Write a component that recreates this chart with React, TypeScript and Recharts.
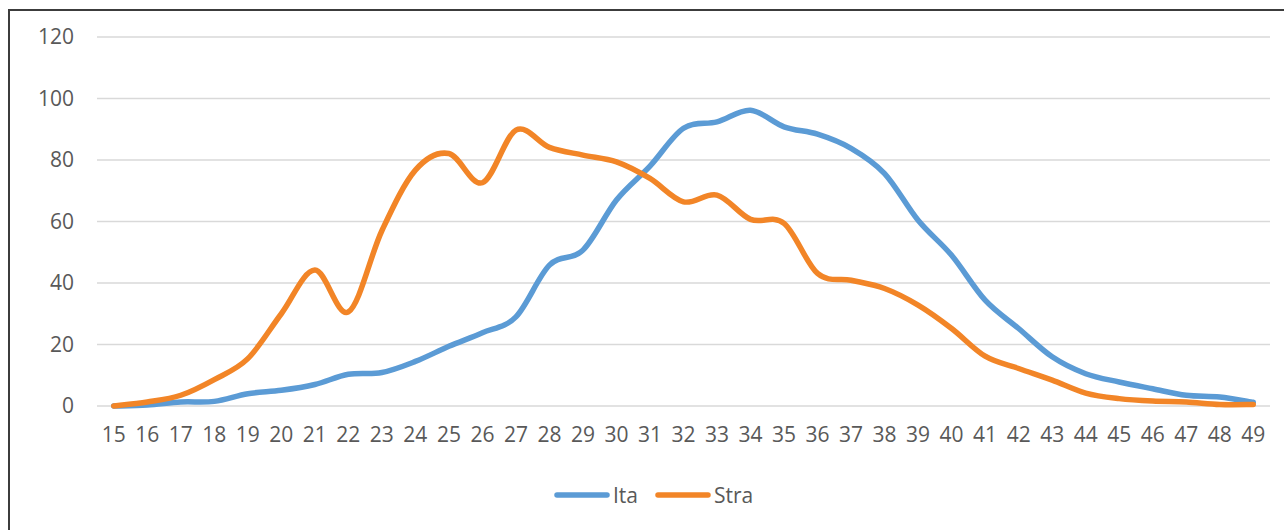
import { LineChart, Line, XAxis, YAxis, CartesianGrid, Legend } from 'recharts';

const AGES = ['15', '16', '17', '18', '19', '20', '21', '22', '23', '24', '25', '26', '27', '28', '29', '30', '31', '32', '33', '34', '35', '36', '37', '38', '39', '40', '41', '42', '43', '44', '45', '46', '47', '48', '49'];
const ITA = [0, 0.3, 1.3, 1.5, 4, 5.1, 7, 10.3, 10.9, 14.5, 19.4, 23.8, 29, 45.8, 50.7, 67, 78, 90.3, 92.4, 96.2, 90.8, 88.4, 83.8, 75.6, 60.4, 49, 34.4, 25.2, 16, 10.5, 7.8, 5.6, 3.5, 2.9, 1.2];
const STRA = [0, 1.3, 3.5, 8.6, 15.4, 30, 44.2, 30.6, 57, 76.7, 82.1, 72.6, 89.7, 84.1, 81.6, 79.4, 74, 66.4, 68.6, 60.7, 59.4, 43.1, 40.9, 38.2, 32.8, 25.2, 16.2, 12.2, 8.4, 4.2, 2.4, 1.6, 1.3, 0.5, 0.5];
const Y_TICKS = [0, 20, 40, 60, 80, 100, 120];

const SERIES = [
  { key: 'Ita', color: '#5B9BD5' },
  { key: 'Stra', color: '#F28527' },
];

const TEXT = '#595959';
const FONT = '"Open Sans", sans-serif';

const data = AGES.map((age, i) => ({ age, Ita: ITA[i], Stra: STRA[i] }));

// excel-like smoothing (catmull-rom as cubic bezier)
function excelSmooth(context: any) {
  let pts: number[][] = [];
  return {
    areaStart() {},
    areaEnd() {},
    lineStart() {
      pts = [];
    },
    point(x: number, y: number) {
      pts.push([+x, +y]);
    },
    lineEnd() {
      if (!pts.length) return;
      context.moveTo(pts[0][0], pts[0][1]);
      for (let i = 0; i < pts.length - 1; i++) {
        const p0 = pts[i - 1] || pts[i];
        const p1 = pts[i];
        const p2 = pts[i + 1];
        const p3 = pts[i + 2] || p2;
        context.bezierCurveTo(
          p1[0] + (p2[0] - p0[0]) / 6,
          p1[1] + (p2[1] - p0[1]) / 6,
          p2[0] - (p3[0] - p1[0]) / 6,
          p2[1] - (p3[1] - p1[1]) / 6,
          p2[0],
          p2[1],
        );
      }
    },
  };
}

function LegendContent() {
  return (
    <div style={{ display: 'flex', alignItems: 'center', fontFamily: FONT, fontSize: 21, color: TEXT }}>
      {SERIES.map((s, i) => (
        <div key={s.key} style={{ display: 'flex', alignItems: 'center', marginLeft: i ? 17 : 0 }}>
          <svg width={56} height={10}>
            <line x1={3} y1={5} x2={53} y2={5} stroke={s.color} strokeWidth={5.5} strokeLinecap="round" />
          </svg>
          <span style={{ marginLeft: 3, lineHeight: '24px' }}>{s.key}</span>
        </div>
      ))}
    </div>
  );
}

export default function App() {
  return (
    <div style={{ position: 'fixed', left: 0, top: 0, width: 1284, height: 530, overflow: 'hidden', background: '#fff' }}>
      <div style={{ position: 'absolute', left: 8, top: 9, width: 1400, height: 600, border: '2px solid #3c3c3c' }} />
      <div style={{ position: 'absolute', left: 0, top: 0 }}>
        <LineChart width={1284} height={530} data={data} margin={{ top: 37, right: 14, bottom: 94, left: 0 }} style={{ fontFamily: FONT }}>
          <CartesianGrid vertical={false} stroke="#d9d9d9" strokeWidth={1.5} />
          <XAxis
            dataKey="age"
            interval={0}
            padding={{ left: 16.75, right: 16.75 }}
            axisLine={false}
            tickLine={false}
            height={30}
            tickMargin={15}
            tick={{ fontSize: 21, fill: TEXT }}
          />
          <YAxis
            domain={[0, 120]}
            ticks={Y_TICKS}
            axisLine={false}
            tickLine={false}
            width={97}
            tickMargin={17}
            tick={{ fontSize: 21, fill: TEXT }}
          />
          <Legend
            verticalAlign="middle"
            layout="horizontal"
            align="center"
            content={<LegendContent />}
            wrapperStyle={{ top: 483, left: 554, width: 'auto' }}
          />
          {SERIES.map((s) => (
            <Line
              key={s.key}
              dataKey={s.key}
              type={excelSmooth as any}
              stroke={s.color}
              strokeWidth={5.5}
              strokeLinecap="round"
              strokeLinejoin="round"
              dot={false}
              activeDot={false}
              isAnimationActive={false}
            />
          ))}
        </LineChart>
      </div>
    </div>
  );
}
